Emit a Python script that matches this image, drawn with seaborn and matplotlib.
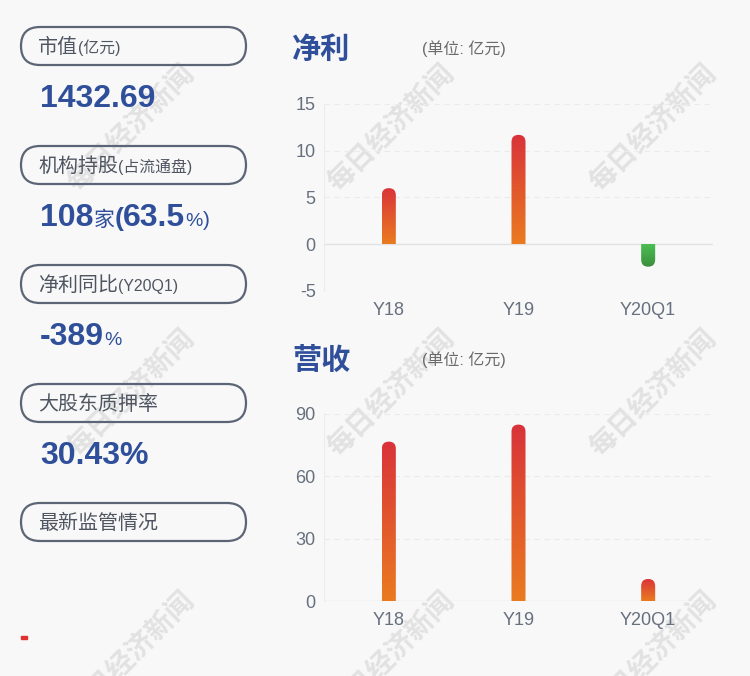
import numpy as np
import pandas as pd
import matplotlib
matplotlib.use('Agg')
import matplotlib.pyplot as plt
import seaborn as sns
from matplotlib.patches import FancyBboxPatch, Rectangle
from matplotlib.colors import LinearSegmentedColormap

# ---- data ----
categories = ['Y18', 'Y19', 'Y20Q1']
net_profit = [6.0, 11.7, -2.4]
revenue = [76.7, 84.9, 10.6]
profit_ticks = [-5, 0, 5, 10, 15]
revenue_ticks = [0, 30, 60, 90]
panel_labels = [('市值', '(亿元)'), ('机构持股', '(占流通盘)'), ('净利同比', '(Y20Q1)'),
                ('大股东质押率', ''), ('最新监管情况', '')]
market_cap = '1432.69'
inst_count = '108'
inst_pct = '63.5'
profit_yoy = '-389'
pledge_rate = '30.43%'

sns.set_theme(style='white')
plt.rcParams['font.family'] = ['Liberation Sans', 'Noto Sans CJK SC', 'DejaVu Sans']

W, H = 750, 676
BG = '#f8f8f8'
BLUE = '#2f4f9a'
TICK = '#66707e'
fig = plt.figure(figsize=(W / 100, H / 100), dpi=100)
fig.patch.set_facecolor(BG)

bg = fig.add_axes([0, 0, 1, 1], zorder=0)
bg.set_xlim(0, W)
bg.set_ylim(H, 0)
bg.axis('off')
bg.set_facecolor(BG)

# watermarks
for cx in (133, 393, 655):
    for cy in (130, 395, 657):
        bg.text(cx, cy, '每日经济新闻', rotation=45, rotation_mode='anchor',
                ha='center', va='center', fontsize=20, fontweight='bold',
                color='#e2e2e2', zorder=0)

red_cmap = LinearSegmentedColormap.from_list('r', ['#ea7b20', '#d9333a'])
green_cmap = LinearSegmentedColormap.from_list('g', ['#3c8d3e', '#4cbf52'])


def chart(rect, values, ticks, ylim, title, title_y):
    ax = fig.add_axes(rect, zorder=2)
    ax.set_facecolor('none')
    df = pd.DataFrame({'cat': categories, 'val': values})
    sns.barplot(data=df, x='cat', y='val', width=0.108, ax=ax,
                color='#e05030', saturation=1, errorbar=None)
    ax.set_xlim(-0.5, 2.5)
    ax.set_ylim(*ylim)
    px_x = rect[2] * W / 3.0
    px_y = rect[3] * H / (ylim[1] - ylim[0])
    ma = px_x / px_y
    grad = np.linspace(0, 1, 256).reshape(-1, 1)
    for p in list(ax.patches):
        x0, w = p.get_x(), p.get_width()
        y0, h = p.get_y(), p.get_height()
        bot, top = min(y0, y0 + h), max(y0, y0 + h)
        r = w / 2.0
        ext = r * ma
        p.set_visible(False)
        if h >= 0:
            clip = FancyBboxPatch((x0, bot - ext), w, top - bot + ext,
                                  boxstyle=f'round,pad=0,rounding_size={r}',
                                  mutation_aspect=ma, fc='none', ec='none')
            cmap = red_cmap
        else:
            clip = FancyBboxPatch((x0, bot), w, top - bot + ext,
                                  boxstyle=f'round,pad=0,rounding_size={r}',
                                  mutation_aspect=ma, fc='none', ec='none')
            cmap = green_cmap
        ax.add_patch(clip)
        im = ax.imshow(grad, extent=(x0, x0 + w, bot, top), origin='lower',
                       cmap=cmap, aspect='auto', zorder=3)
        im.set_clip_path(clip)
    ax.set_xlim(-0.5, 2.5)
    ax.set_ylim(*ylim)
    for t in ticks:
        if t == 0:
            ax.axhline(0, color='#e2e2e2', lw=1.0, zorder=1)
        else:
            ax.axhline(t, color='#ebebeb', lw=0.8, ls=(0, (5, 4)), zorder=1)
    ax.set_yticks(ticks)
    ax.set_yticklabels([str(t) for t in ticks])
    ax.tick_params(axis='both', length=0, labelsize=13, labelcolor=TICK)
    ax.tick_params(axis='y', pad=6)
    ax.tick_params(axis='x', pad=8)
    ax.set_xlabel('')
    ax.set_ylabel('')
    for s in ('top', 'right', 'bottom'):
        ax.spines[s].set_visible(False)
    ax.spines['left'].set_color('#ececec')
    ax.spines['left'].set_linewidth(0.8)
    bg.text(292, title_y, title, fontsize=21, fontweight='bold', color=BLUE,
            ha='left', va='center')
    bg.text(422, title_y - 1, '(单位: 亿元)', fontsize=11.5, color='#6a6a6a',
            ha='left', va='center')
    return ax


chart([324 / W, 1 - 291 / H, 389 / W, 187 / H], net_profit, profit_ticks,
      (-5, 15), '净利', 50)
chart([324 / W, 1 - 601 / H, 389 / W, 187 / H], revenue, revenue_ticks,
      (0, 90), '营收', 361)

# ---- left panel ----
renderer = fig.canvas.get_renderer()


def seq_text(x, y, parts):
    for s, size, weight, color in parts:
        if not s:
            continue
        t = bg.text(x, y, s, fontsize=size, fontweight=weight, color=color,
                    ha='left', va='baseline', zorder=3)
        bb = t.get_window_extent(renderer=renderer)
        x += bb.width


LABEL = '#4f5662'
pill_centers = [46, 165, 284, 403, 522]
for c, (main, sub) in zip(pill_centers, panel_labels):
    bg.add_patch(FancyBboxPatch((21, c - 19), 225, 38,
                                boxstyle='round,pad=0,rounding_size=19',
                                fc='none', ec='#5b6575', lw=1.6, zorder=2))
    seq_text(38, c + 7, [(main, 14.4, 'normal', LABEL), (sub, 11.4, 'normal', LABEL)])

seq_text(40, pill_centers[0] + 61, [(market_cap, 23, 'bold', BLUE)])
seq_text(40, pill_centers[1] + 61, [(inst_count, 23, 'bold', BLUE),
                                    ('家', 15, 'normal', BLUE),
                                    ('(', 19, 'bold', BLUE),
                                    (inst_pct, 23, 'bold', BLUE),
                                    ('%', 14, 'normal', BLUE),
                                    (')', 15, 'normal', BLUE)])
seq_text(40, pill_centers[2] + 61, [(profit_yoy, 23, 'bold', BLUE),
                                    ('%', 14, 'normal', BLUE)])
seq_text(40, pill_centers[3] + 61, [(pledge_rate, 23, 'bold', BLUE)])

bg.add_patch(Rectangle((21, 636), 6, 3, color='#e03030', zorder=3))

fig.savefig('out.png', dpi=100, facecolor=BG)
